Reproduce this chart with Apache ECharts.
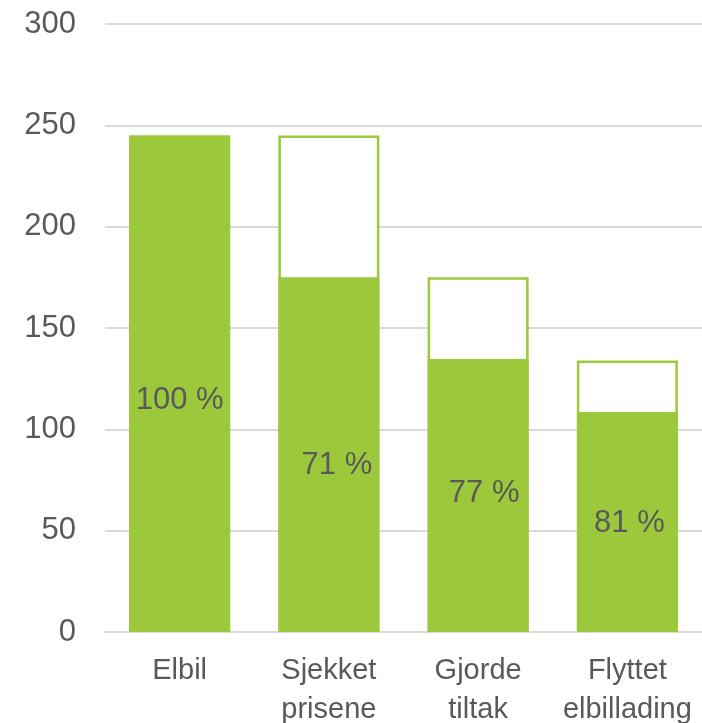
<!DOCTYPE html>
<html><head><meta charset="utf-8">
<script src="https://cdn.jsdelivr.net/npm/echarts@6/dist/echarts.min.js"></script>
<style>html,body{margin:0;padding:0;background:#fff}#c{width:702px;height:723px}</style>
</head><body><div id="c"></div>
<script>
const categories = ['Elbil', 'Sjekket\nprisene', 'Gjorde\ntiltak', 'Flyttet\nelbillading'];
const totals = [245, 245, 175, 134];
const filled = [245, 175, 134.7, 108.6];
const pctLabels = ['100 %', '71 %', '77 %', '81 %'];
const labelOffsets = [[0, 17], [8, 11], [6, -2], [2, 2]];
const yTicks = { min: 0, max: 300, interval: 50 };

const green = '#9cc93b';
const textColor = '#595959';
const font = 'Liberation Sans, Arial, sans-serif';

const chart = echarts.init(document.getElementById('c'), null, { renderer: 'canvas' });
chart.setOption({
  animation: false,
  grid: { left: 105, right: 0, top: 24, bottom: 91, containLabel: false, outerBoundsMode: 'none' },
  xAxis: {
    type: 'category',
    data: categories,
    axisLine: { lineStyle: { color: '#d9d9d9', width: 2 } },
    axisTick: { show: false },
    axisLabel: { interval: 0, color: textColor, fontFamily: font, fontSize: 29, lineHeight: 39, margin: 19 }
  },
  yAxis: {
    type: 'value',
    min: yTicks.min, max: yTicks.max, interval: yTicks.interval,
    axisLine: { show: false },
    axisTick: { show: false },
    splitLine: { lineStyle: { color: '#d9d9d9', width: 2 } },
    axisLabel: { color: textColor, fontFamily: font, fontSize: 31, margin: 29 }
  },
  series: [
    {
      type: 'bar',
      data: totals,
      barWidth: 101,
      itemStyle: { color: '#fff', borderColor: green, borderWidth: 2.5 },
      silent: true
    },
    {
      type: 'bar',
      data: filled.map((v, i) => ({
        value: v,
        label: { offset: labelOffsets[i] }
      })),
      barWidth: 101,
      barGap: '-100%',
      itemStyle: { color: green },
      label: {
        show: true,
        position: 'inside',
        color: textColor,
        fontFamily: font,
        fontSize: 31,
        formatter: p => pctLabels[p.dataIndex]
      }
    }
  ]
});
</script></body></html>
